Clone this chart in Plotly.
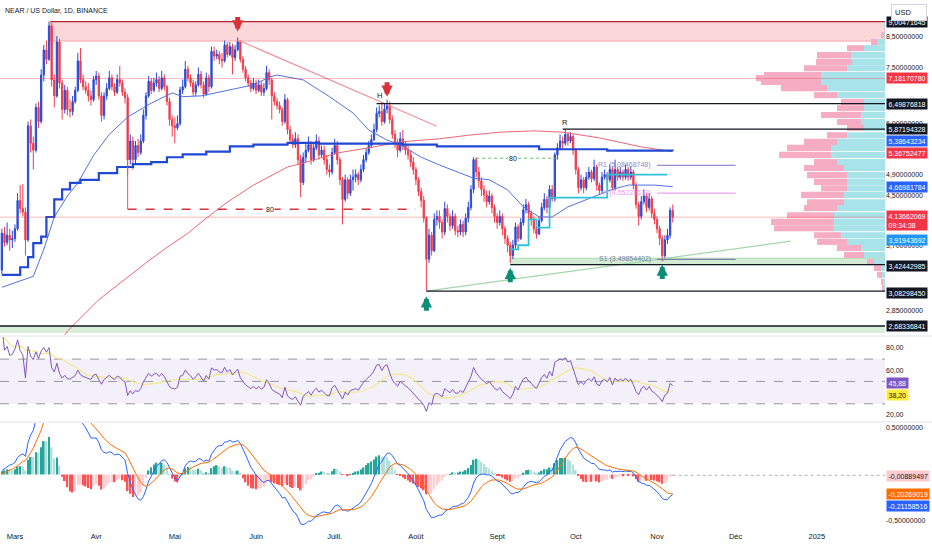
import math
import pandas as pd
import plotly.graph_objects as go

FONT = "Liberation Sans, Arial"

# ---- NEAR / USD daily candles, 25 Feb -> 7 Nov 2024 ----
first_open = 3.35
closes = [
    3.88, 3.74, 3.85, 3.78, 3.80,
    3.95, 4.42, 4.28, 4.22, 3.78, 5.95, 5.55, 5.40, 6.40, 6.05, 7.28, 8.04, 7.75, 8.85, 7.14, 6.70,
    8.30, 7.05, 6.35, 6.85, 6.35, 6.30, 6.55, 6.85, 7.70, 7.15, 6.95, 6.85, 6.70, 6.60, 7.15,
    7.25, 6.70, 6.20, 6.70, 6.90, 7.20, 6.95, 6.80, 7.15, 7.05, 6.80, 6.65, 5.20, 5.60, 5.20,
    5.50, 5.35, 5.60, 6.20, 6.70, 7.10, 6.85, 7.05, 7.15, 6.90, 7.20, 6.95, 6.55, 6.10, 5.95,
    5.90, 6.00, 6.86, 6.95, 7.45, 7.20, 7.05, 6.80, 7.00, 7.30, 7.00, 6.75, 7.20, 6.95, 8.00,
    7.85, 7.90, 7.75, 7.70, 8.20, 7.90, 8.15, 7.80, 8.05, 8.30, 7.75, 7.45, 7.20, 7.05, 6.90, 7.05,
    6.85, 7.00, 6.80, 6.90, 7.35, 7.14, 6.70, 6.55, 6.45, 6.34, 6.05, 6.60, 5.86, 5.63, 5.52,
    5.65, 5.20, 4.75, 5.25, 5.40, 5.52, 5.20, 5.45, 5.60, 5.30, 5.40, 5.20, 5.00, 4.95, 5.35,
    5.50, 5.20, 4.80, 4.44, 4.80, 4.55, 4.80, 4.85, 4.90, 4.80, 5.00, 5.20, 5.35, 5.50, 5.63,
    5.86, 6.25, 6.30, 6.05, 6.36, 6.45, 6.10, 5.75, 5.55, 5.40, 5.65, 5.50, 5.40, 5.30, 5.15, 5.00,
    4.80, 4.58, 4.42, 4.12, 3.50, 3.85, 3.62, 4.10, 4.15, 4.05, 3.90, 4.28, 4.15, 4.00, 4.15,
    3.92, 3.90, 4.02, 3.90, 4.12, 4.30, 4.62, 5.20, 4.95, 4.78, 4.62, 4.52, 4.40, 4.50, 4.30, 4.15,
    4.05, 4.15, 3.95, 3.80, 3.70, 3.55, 3.70, 3.98, 3.80, 4.05, 4.26, 4.35, 4.20, 4.10, 3.95,
    3.87, 4.08, 4.30, 4.44, 4.30, 4.62, 4.45, 5.30, 5.45, 5.60, 5.55, 5.75, 5.60, 5.70, 5.40,
    5.00, 4.65, 4.80, 4.65, 4.85, 4.95, 4.82, 5.05, 4.70, 4.60, 4.85, 4.90, 4.80, 5.00, 4.65,
    5.00, 4.85, 4.95, 4.85, 5.00, 4.85, 4.95, 4.70, 4.35, 4.15, 4.40, 4.50, 4.30, 4.45, 4.20, 4.10,
    3.95, 3.80, 3.55, 3.78, 3.85, 4.25, 4.1366,
]
highs = [
    3.95, 3.98, 4.05, 3.95, 3.92,
    4.02, 4.55, 4.70, 4.72, 4.30, 6.05, 6.10, 5.70, 6.50, 6.55, 7.45, 8.20, 8.35, 9.0047, 8.95, 7.30,
    8.50, 8.40, 7.15, 7.00, 6.95, 6.60, 6.70, 6.95, 7.95, 8.10, 7.30, 7.10, 7.05, 6.85, 7.25,
    7.40, 7.35, 6.80, 6.80, 7.05, 7.40, 7.30, 7.05, 7.30, 7.55, 7.15, 6.90, 6.75, 5.75, 5.70,
    5.60, 5.65, 5.75, 6.35, 6.80, 7.25, 7.20, 7.20, 7.35, 7.25, 7.40, 7.30, 7.00, 6.65, 6.20,
    6.15, 6.20, 6.95, 7.15, 7.70, 7.55, 7.30, 7.15, 7.10, 7.50, 7.40, 7.10, 7.35, 7.30, 8.15,
    8.15, 8.05, 8.00, 7.95, 8.35, 8.30, 8.30, 8.25, 8.20, 8.45, 8.35, 7.85, 7.55, 7.30, 7.15, 7.20,
    7.15, 7.15, 7.10, 7.05, 7.55, 7.45, 7.20, 6.80, 6.65, 6.55, 6.40, 6.75, 6.65, 5.95, 5.75,
    5.80, 5.75, 5.30, 5.35, 5.55, 5.70, 5.60, 5.55, 5.75, 5.70, 5.50, 5.50, 5.30, 5.10, 5.45,
    5.65, 5.60, 5.25, 4.85, 4.90, 4.85, 4.90, 5.00, 5.00, 4.95, 5.10, 5.30, 5.45, 5.60, 5.75,
    6.00, 6.40, 6.45, 6.55, 6.50, 6.60, 6.55, 6.20, 5.85, 5.65, 5.80, 5.85, 5.60, 5.50, 5.40, 5.25,
    5.05, 4.85, 4.65, 4.50, 4.15, 3.95, 3.90, 4.20, 4.25, 4.25, 4.10, 4.40, 4.35, 4.20, 4.25,
    4.20, 4.00, 4.10, 4.08, 4.20, 4.40, 4.70, 5.25, 5.25, 5.05, 4.85, 4.70, 4.60, 4.60, 4.55, 4.35,
    4.20, 4.25, 4.20, 4.00, 3.85, 3.75, 3.78, 4.05, 4.02, 4.12, 4.35, 4.45, 4.40, 4.25, 4.15,
    4.00, 4.15, 4.38, 4.55, 4.50, 4.70, 4.70, 5.35, 5.55, 5.75, 5.70, 5.87, 5.80, 5.80, 5.75,
    5.45, 5.05, 4.90, 4.85, 4.95, 5.05, 5.00, 5.20, 5.10, 4.75, 4.95, 5.00, 4.95, 5.10, 5.05,
    5.20, 5.05, 5.05, 5.00, 5.10, 5.05, 5.05, 5.00, 4.75, 4.40, 4.50, 4.62, 4.55, 4.55, 4.50, 4.28,
    4.15, 4.00, 3.85, 3.85, 3.95, 4.30, 4.35,
]
lows = [
    3.30, 3.68, 3.70, 3.62, 3.66,
    3.75, 3.92, 4.20, 4.15, 3.55, 3.75, 5.35, 5.00, 5.35, 5.90, 6.00, 7.10, 7.60, 7.70, 6.95, 6.40,
    6.65, 6.90, 6.10, 6.25, 6.20, 6.15, 6.20, 6.50, 6.80, 7.05, 6.85, 6.75, 6.55, 6.45, 6.55,
    7.00, 6.60, 6.05, 6.10, 6.60, 6.85, 6.85, 6.70, 6.75, 6.95, 6.70, 6.50, 4.90, 5.10, 5.00,
    5.10, 5.25, 5.30, 5.55, 6.10, 6.65, 6.75, 6.80, 6.95, 6.80, 6.85, 6.85, 6.45, 5.95, 5.70,
    5.55, 5.85, 5.95, 6.75, 6.90, 7.10, 6.95, 6.70, 6.70, 6.95, 6.90, 6.65, 6.70, 6.80, 6.90,
    7.70, 7.75, 7.60, 7.50, 7.65, 7.80, 7.85, 7.30, 7.70, 8.00, 7.65, 7.35, 7.10, 6.95, 6.80, 6.85,
    6.75, 6.80, 6.70, 6.70, 6.85, 7.00, 6.10, 6.45, 6.35, 6.25, 5.95, 6.00, 5.75, 5.55, 5.45,
    5.45, 5.10, 4.48, 4.70, 5.15, 5.35, 5.10, 5.15, 5.40, 5.20, 5.25, 5.10, 4.90, 4.85, 4.90,
    5.30, 5.10, 4.70, 4.02, 4.40, 4.45, 4.50, 4.60, 4.75, 4.70, 4.75, 4.95, 5.15, 5.30, 5.45,
    5.60, 5.80, 6.15, 5.95, 6.00, 6.25, 6.00, 5.65, 5.45, 5.25, 5.35, 5.40, 5.30, 5.20, 5.05, 4.90,
    4.70, 4.50, 4.30, 4.05, 3.0830, 3.45, 3.55, 3.60, 4.00, 3.95, 3.80, 3.85, 4.05, 3.92, 3.95,
    3.85, 3.82, 3.85, 3.82, 3.85, 4.05, 4.25, 4.55, 4.85, 4.65, 4.50, 4.40, 4.30, 4.35, 4.20, 4.05,
    3.95, 4.00, 3.85, 3.72, 3.60, 3.45, 3.50, 3.65, 3.75, 3.78, 4.00, 4.20, 4.10, 4.00, 3.88,
    3.80, 3.85, 4.05, 4.25, 4.20, 4.25, 4.40, 4.40, 5.20, 5.40, 5.40, 5.50, 5.50, 5.55, 5.30,
    4.90, 4.55, 4.60, 4.55, 4.60, 4.80, 4.75, 4.78, 4.60, 4.52, 4.55, 4.80, 4.70, 4.75, 4.60,
    4.60, 4.78, 4.80, 4.78, 4.80, 4.78, 4.80, 4.62, 4.28, 4.00, 4.10, 4.35, 4.22, 4.25, 4.12, 4.02,
    3.88, 3.70, 3.47, 3.50, 3.72, 3.80, 4.05,
]

# ---- overlay lines (date, value) ----
ma50_dates = ["2024-02-25", "2024-03-08", "2024-03-12", "2024-03-16", "2024-03-21", "2024-03-25",
              "2024-03-31", "2024-04-06", "2024-04-13", "2024-04-22", "2024-04-30", "2024-05-04",
              "2024-05-11", "2024-05-22", "2024-05-31", "2024-06-06", "2024-06-09", "2024-06-19",
              "2024-06-29", "2024-07-08", "2024-07-14", "2024-07-21", "2024-07-26", "2024-08-03",
              "2024-08-10", "2024-08-23", "2024-08-29", "2024-09-05", "2024-09-11", "2024-09-17",
              "2024-09-22", "2024-09-28", "2024-10-03", "2024-10-08", "2024-10-15", "2024-10-21",
              "2024-10-31", "2024-11-07"]
ma50_values = [3.13, 3.27, 3.64, 4.14, 4.50, 4.74, 5.29, 5.75, 6.16, 6.51, 6.78, 6.68, 6.70, 6.86,
               7.00, 7.22, 7.28, 7.14, 6.68, 6.26, 5.85, 5.62, 5.52, 5.25, 5.09, 4.83, 4.80, 4.61,
               4.31, 4.14, 4.14, 4.31, 4.40, 4.48, 4.62, 4.70, 4.70, 4.67]

ma200_dates = ["2024-03-20", "2024-03-21", "2024-04-02", "2024-04-13", "2024-04-20", "2024-04-28",
               "2024-05-06", "2024-05-13", "2024-05-21", "2024-05-31", "2024-06-13", "2024-06-19",
               "2024-07-02", "2024-07-15", "2024-07-26", "2024-08-10", "2024-08-21", "2024-09-02",
               "2024-09-15", "2024-09-26", "2024-10-10", "2024-10-26", "2024-11-07"]
ma200_values = [2.59, 2.63, 2.98, 3.26, 3.45, 3.67, 3.88, 4.12, 4.39, 4.70, 5.05, 5.13, 5.34, 5.46,
                5.58, 5.65, 5.73, 5.80, 5.83, 5.80, 5.67, 5.47, 5.37]

vwap_dates = ["2024-02-25", "2024-03-03", "2024-03-06", "2024-03-08", "2024-03-11", "2024-03-13",
              "2024-03-16", "2024-03-19", "2024-03-22", "2024-03-26", "2024-04-02", "2024-04-09",
              "2024-04-15", "2024-04-22", "2024-04-28", "2024-05-04", "2024-05-13", "2024-05-22",
              "2024-05-31", "2024-06-13", "2024-06-25", "2024-07-27", "2024-08-09", "2024-09-17",
              "2024-10-13", "2024-11-07"]
vwap_values = [3.29, 3.39, 3.53, 3.73, 3.83, 4.14, 4.44, 4.62, 4.74, 4.80, 4.93, 5.05, 5.11, 5.15,
               5.25, 5.31, 5.37, 5.48, 5.52, 5.56, 5.54, 5.52, 5.48, 5.42, 5.39, 5.386]

trail_dates = ["2024-09-06", "2024-09-09", "2024-09-13", "2024-09-16", "2024-09-21", "2024-10-13",
               "2024-11-05"]
trail_values = [3.64, 3.70, 4.10, 3.97, 4.47, 4.90, 4.90]

down_trend_dates = ["2024-05-25", "2024-08-09"]
down_trend_prices = [8.37, 5.94]
up_trend_dates = ["2024-08-05", "2024-12-22"]
up_trend_prices = [3.0830, 3.76]

# ---- volume profile rows (price, up volume, total volume) ----
vp_prices = [8.88, 8.53, 8.30, 8.10, 7.88, 7.67, 7.48, 7.28, 7.19, 7.08, 6.91, 6.72, 6.54, 6.38,
             6.21, 6.04, 5.90, 5.73, 5.58, 5.45, 5.30, 5.15, 5.03, 4.89, 4.76, 4.64, 4.52, 4.39,
             4.29, 4.17, 4.06, 3.96, 3.85, 3.75, 3.66, 3.56, 3.46, 3.38, 3.29, 3.20, 3.12]
vp_up = [1, 1, 8, 21, 34, 33, 38, 64, 68, 64, 58, 48, 21, 21, 24, 24, 21, 38, 48, 54, 54, 48, 41,
         38, 38, 38, 41, 41, 48, 51, 51, 51, 44, 38, 24, 21, 11, 4, 3, 2, 1]
vp_total = [1, 4, 14, 38, 68, 69, 81, 121, 129, 124, 104, 71, 44, 48, 64, 48, 38, 58, 81, 98, 106,
            71, 81, 78, 71, 64, 84, 78, 81, 98, 114, 111, 71, 68, 48, 41, 18, 11, 8, 4, 3]

# ---- levels and zones ----
zone_start, zone_low, zone_high = "2024-03-14 12:00", 8.33, 9.00471645
poc_price = 7.18170780
last_price = 4.13662069
countdown = "09:34:38"
level_prices = [6.49876818, 5.87194328, 3.42442985, 3.08298450]
level_starts = ["2024-07-17", "2024-09-26", "2024-09-06", "2024-08-05"]
floor_price = 2.68336841
s_zone_start, s_zone_low, s_zone_high = "2024-09-06", 3.42442985, 3.515
box_red = ("2024-04-13", "2024-08-01", 4.27, 5.15)
box_green = ("2024-08-24", "2024-09-25", 5.23)
pivot_names = ["R1", "P", "S1"]
pivot_values = [5.08468748, 4.55228633, 3.49854402]
sell_dates = ["2024-05-25", "2024-07-21"]
buy_dates = ["2024-08-05", "2024-09-06", "2024-11-03"]

indicator_tags = {"blue_ma": 5.38643234, "red_ma": 5.36752477, "ma50": 4.66981784, "fast": 3.91943692}
rsi_last, rsi_ma_last = 45.88, 38.20
hist_last, signal_last, macd_last = -0.00889497, -0.20269019, -0.21158516

month_ticks = ["2024-03-01", "2024-04-01", "2024-05-01", "2024-06-01", "2024-07-01", "2024-08-01",
               "2024-09-01", "2024-10-01", "2024-11-01", "2024-12-01", "2025-01-01"]
month_names = ["Mars", "Avr", "Mai", "Juin", "Juill.", "Août", "Sept", "Oct", "Nov", "Déc", "2025"]

# ---------------------------------------------------------------------------
dates = pd.date_range("2024-02-25", periods=len(closes), freq="D")
opens = [first_open] + closes[:-1]
highs = [max(h, o, c) for h, o, c in zip(highs, opens, closes)]
lows = [min(l, o, c) for l, o, c in zip(lows, opens, closes)]
day = dict(zip(dates.strftime("%Y-%m-%d"), range(len(dates))))

t0 = dates[0]
x_left = t0 - pd.Timedelta(hours=17)
x_right = t0 + pd.Timedelta(days=337)

P_LO, P_HI = math.log10(2.59), math.log10(9.81)


def ly(p):
    return math.log10(p)


def fmt(v, n=8):
    return f"{v:.{n}f}".replace(".", ",")


# RSI 14 + MA 14, MACD 12/26/9
px = pd.Series([first_open] + closes)
delta = px.diff().fillna(0)
gain = delta.clip(lower=0).ewm(alpha=1 / 14).mean()
loss = (-delta).clip(lower=0).ewm(alpha=1 / 14).mean()
rsi = (100 - 100 / (1 + gain / loss)).iloc[1:].reset_index(drop=True)
rsi_ma = rsi.rolling(14, min_periods=1).mean()
macd = (px.ewm(span=12, adjust=False).mean() - px.ewm(span=26, adjust=False).mean())
signal = macd.ewm(span=9, adjust=False).mean()
hist = (macd - signal)
macd, signal, hist = [s.iloc[1:].reset_index(drop=True) for s in (macd, signal, hist)]
hist_colors = []
for i, h in enumerate(hist):
    prev = hist[i - 1] if i else 0
    if h >= 0:
        hist_colors.append("#26a69a" if h > prev else "#b2dfdb")
    else:
        hist_colors.append("#ffcdd2" if h > prev else "#ff5252")

fig = go.Figure()

# volume profile: own overlay axes, 1 unit = 1 px measured from the right edge
vp_y = [ly(p) for p in vp_prices]
vp_down = [t - u for t, u in zip(vp_total, vp_up)]
fig.add_trace(go.Bar(y=vp_y, x=vp_up, base=0, orientation="h", width=0.0105,
                     marker=dict(color="#a8e3ea", line_width=0), xaxis="x4", yaxis="y4", hoverinfo="skip"))
fig.add_trace(go.Bar(y=vp_y, x=vp_down, base=vp_up, orientation="h", width=0.0105,
                     marker=dict(color="#f6adc3", line_width=0), xaxis="x4", yaxis="y4", hoverinfo="skip"))

# price
fig.add_trace(go.Candlestick(x=dates, open=opens, high=highs, low=lows, close=closes,
                             increasing=dict(line=dict(color="#2b4bd6", width=1), fillcolor="#2b4bd6"),
                             decreasing=dict(line=dict(color="#ef3d4d", width=1), fillcolor="#ef3d4d"),
                             whiskerwidth=0, hoverinfo="skip"))
fig.add_trace(go.Scatter(x=ma200_dates, y=ma200_values, mode="lines",
                         line=dict(color="#f06674", width=1), hoverinfo="skip"))
fig.add_trace(go.Scatter(x=ma50_dates, y=ma50_values, mode="lines",
                         line=dict(color="#5470e6", width=1), hoverinfo="skip"))
fig.add_trace(go.Scatter(x=vwap_dates, y=vwap_values, mode="lines",
                         line=dict(color="#1f48d4", width=2.2, shape="hv"), hoverinfo="skip"))
fig.add_trace(go.Scatter(x=trail_dates, y=trail_values, mode="lines",
                         line=dict(color="#2ec4d8", width=1.8, shape="hv"), hoverinfo="skip"))
fig.add_trace(go.Scatter(x=down_trend_dates, y=down_trend_prices, mode="lines",
                         line=dict(color="#f4929c", width=1.2), hoverinfo="skip"))
fig.add_trace(go.Scatter(x=up_trend_dates, y=up_trend_prices, mode="lines",
                         line=dict(color="#a5d6a7", width=1.2), hoverinfo="skip"))

# RSI pane
fig.add_trace(go.Scatter(x=[x_left, x_right, x_right, x_left], y=[30, 30, 70, 70], fill="toself",
                         fillcolor="rgba(126,87,194,0.09)", line_width=0, mode="lines",
                         xaxis="x2", yaxis="y2", hoverinfo="skip"))
for lvl in (70, 50, 30):
    fig.add_trace(go.Scatter(x=[x_left, x_right], y=[lvl, lvl], mode="lines",
                             line=dict(color="#9598a1", width=1, dash="dash"),
                             xaxis="x2", yaxis="y2", hoverinfo="skip"))
fig.add_trace(go.Scatter(x=dates, y=rsi_ma, mode="lines", line=dict(color="#f2e88c", width=1.2),
                         xaxis="x2", yaxis="y2", hoverinfo="skip"))
fig.add_trace(go.Scatter(x=dates, y=rsi, mode="lines", line=dict(color="#7e57c2", width=1),
                         xaxis="x2", yaxis="y2", hoverinfo="skip"))

# MACD pane
fig.add_trace(go.Bar(x=dates, y=hist, marker=dict(color=hist_colors, line_width=0),
                     width=0.62 * 86400000, xaxis="x3", yaxis="y3", hoverinfo="skip"))
fig.add_trace(go.Scatter(x=dates, y=macd, mode="lines", line=dict(color="#2962ff", width=1),
                         xaxis="x3", yaxis="y3", hoverinfo="skip"))
fig.add_trace(go.Scatter(x=dates, y=signal, mode="lines", line=dict(color="#ff6d00", width=1),
                         xaxis="x3", yaxis="y3", hoverinfo="skip"))

# ---- shapes (price pane drawn against y4 = log10 of price) ----
shapes = []


def hseg(x0, x1, p, color, width=1.0, dash="solid", layer="above"):
    shapes.append(dict(type="line", xref="x", yref="y4", x0=x0, x1=x1, y0=ly(p), y1=ly(p),
                       line=dict(color=color, width=width, dash=dash), layer=layer))


def rect(x0, x1, p0, p1, fill, edge=None):
    shapes.append(dict(type="rect", xref="x", yref="y4", x0=x0, x1=x1, y0=ly(p0), y1=ly(p1),
                       fillcolor=fill, line=dict(width=1 if edge else 0, color=edge or fill),
                       layer="below"))


rect(zone_start, x_right, zone_low, zone_high, "rgba(242,54,69,0.2)", "rgba(242,54,69,0.35)")
hseg(zone_start, x_right, zone_high, "#b3262f", 1.2)
rect(s_zone_start, x_right, s_zone_low, s_zone_high, "rgba(129,199,132,0.35)", "rgba(102,187,106,0.45)")
rect(x_left, x_right, 2.61, floor_price, "rgba(129,199,132,0.3)")
hseg(x_left, x_right, poc_price, "rgba(242,54,69,0.35)")
hseg(x_left, x_right, last_price, "rgba(242,54,69,0.35)")
for p, s in zip(level_prices, level_starts):
    hseg(s, x_right, p, "#131722", 1.2)
hseg(x_left, x_right, floor_price, "#131722", 1.4)
hseg(box_red[0], box_red[1], box_red[2], "#d8323f", 1.5, "dash")
shapes.append(dict(type="line", xref="x", yref="y4", x0=box_red[0], x1=box_red[0],
                   y0=ly(box_red[2]), y1=ly(box_red[3]), line=dict(color="#ef5350", width=1)))
hseg(box_green[0], box_green[1], box_green[2], "#66bb6a", 1, "dot")
pivot_colors = ["#7b6fc4", "#e48ae8", "#6b6b9a"]
for v, col in zip(pivot_values, pivot_colors):
    hseg("2024-11-01", "2024-12-01", v, col, 1)
shapes.append(dict(type="line", xref="x", yref="y3", x0=dates[-1], x1=x_right, y0=hist_last,
                   y1=hist_last, line=dict(color="#b2b5be", width=1, dash="dot")))
for yp in (0.366, 0.2038):
    shapes.append(dict(type="line", xref="paper", yref="paper", x0=0, x1=932 / 885, y0=yp, y1=yp,
                       line=dict(color="#e0e3eb", width=1)))

# ---- annotations ----
ann = []
small = dict(family=FONT, size=7.5, color="#131722")


def tag(value, text, bg, fg="white", shift=0, yref="y4", anchor="middle"):
    ann.append(dict(xref="paper", x=1, xanchor="left", xshift=1, yref=yref, y=value, yanchor=anchor,
                    yshift=shift, text=text, showarrow=False, bgcolor=bg, borderpad=1.5,
                    font=dict(family=FONT, size=7, color=fg), align="left"))


tag(ly(zone_high), fmt(zone_high), "#131722")
tag(ly(poc_price), fmt(poc_price), "#f23645")
tag(ly(level_prices[0]), fmt(level_prices[0]), "#131722")
tag(ly(level_prices[1]), fmt(level_prices[1]), "#131722")
tag(ly(indicator_tags["blue_ma"]), fmt(indicator_tags["blue_ma"]), "#2962ff", shift=10)
tag(ly(indicator_tags["red_ma"]), fmt(indicator_tags["red_ma"]), "#f23645", shift=-1)
tag(ly(indicator_tags["ma50"]), fmt(indicator_tags["ma50"]), "#2962ff")
tag(ly(last_price), fmt(last_price) + "<br>" + countdown, "#f23645", shift=7, anchor="top")
tag(ly(indicator_tags["fast"]), fmt(indicator_tags["fast"]), "#2196f3", shift=-9)
tag(ly(level_prices[2]), fmt(level_prices[2]), "#131722", shift=-1)
tag(ly(level_prices[3]), fmt(level_prices[3]), "#131722", shift=-2)
tag(ly(floor_price), fmt(floor_price), "#131722")
tag(rsi_last, fmt(rsi_last, 2), "#7e57c2", shift=3, yref="y2")
tag(rsi_ma_last, fmt(rsi_ma_last, 2), "#ffeb3b", fg="#131722", yref="y2")
tag(hist_last, fmt(hist_last), "#fccbcf", fg="#131722", shift=-1, yref="y3")
tag(signal_last, fmt(signal_last), "#ff6d00", shift=-1, yref="y3")
tag(macd_last, fmt(macd_last), "#2962ff", shift=-12, yref="y3")

ann.append(dict(xref="paper", yref="paper", x=1, y=1, xanchor="left", yanchor="top", xshift=6,
                yshift=-4, text="USD", showarrow=False, bgcolor="white", bordercolor="#d1d4dc",
                borderwidth=1, borderpad=3, width=28, align="left", font=small))
ann.append(dict(xref="paper", yref="paper", x=0, y=1, xanchor="left", yanchor="top", xshift=3,
                yshift=-5, text="NEAR / US Dollar, 1D, BINANCE", showarrow=False,
                font=dict(family=FONT, size=7, color="#131722")))

ann.append(dict(x="2024-07-18", y=ly(level_prices[0]), xref="x", yref="y4", yshift=8, text="H",
                showarrow=False, font=small))
ann.append(dict(x="2024-09-27", y=ly(level_prices[1]), xref="x", yref="y4", yshift=7, text="R",
                showarrow=False, font=small))
ann.append(dict(x="2024-06-06 12:00", y=ly(box_red[2]), xref="x", yref="y4", text="80",
                showarrow=False, bgcolor="white", borderpad=0, font=dict(family=FONT, size=7, color="#131722")))
ann.append(dict(x="2024-09-07", y=ly(box_green[2]), xref="x", yref="y4", text="80",
                showarrow=False, bgcolor="white", borderpad=0, font=dict(family=FONT, size=7, color="#131722")))
for name, v, col in zip(pivot_names, pivot_values, pivot_colors):
    ann.append(dict(x="2024-11-01", y=ly(v), xref="x", yref="y4", xanchor="right", xshift=-4,
                    text=f"{name} ({v:.8f})", showarrow=False,
                    font=dict(family=FONT, size=7, color=col), opacity=0.85))

for d, gap in zip(sell_dates, (6, 3)):
    ann.append(dict(x=d, y=ly(highs[day[d]]), xref="x", yref="y4", text="", showarrow=True,
                    arrowhead=2, arrowsize=0.45, arrowwidth=5, arrowcolor="#d9313b",
                    ax=0, ay=-(gap + 16), standoff=gap))
for d, gap in zip(buy_dates, (5, 5, 3)):
    ann.append(dict(x=d, y=ly(lows[day[d]]), xref="x", yref="y4", text="", showarrow=True,
                    arrowhead=2, arrowsize=0.45, arrowwidth=5, arrowcolor="#0a8f76",
                    ax=0, ay=gap + 16, standoff=gap))

axis_font = dict(family=FONT, size=7, color="#131722")
price_ticks = [2.85, 3.7, 4.5, 4.9, 6.0, 7.5, 8.5]
common_x = dict(showgrid=False, zeroline=False, showline=False, ticks="")
common_y = dict(showgrid=False, zeroline=False, showline=False, ticks="", side="right",
                tickfont=axis_font, fixedrange=True)

fig.update_layout(
    width=932, height=550, margin=dict(l=0, r=47, t=0, b=20),
    paper_bgcolor="white", plot_bgcolor="white", showlegend=False, barmode="overlay",
    font=dict(family=FONT, color="#131722"),
    xaxis=dict(domain=[0, 1], anchor="y", type="date", range=[x_left, x_right],
               showticklabels=False, rangeslider=dict(visible=False), **common_x),
    yaxis=dict(domain=[0.368, 1], anchor="x", type="log", range=[P_LO, P_HI],
               tickvals=price_ticks, ticktext=[fmt(v) for v in price_ticks], **common_y),
    xaxis2=dict(domain=[0, 1], anchor="y2", matches="x", showticklabels=False, **common_x),
    yaxis2=dict(domain=[0.2057, 0.3642], anchor="x2", range=[14.6, 89.8],
                tickvals=[20, 60, 80], ticktext=[fmt(v, 2) for v in (20, 60, 80)], **common_y),
    xaxis3=dict(domain=[0, 1], anchor="y3", matches="x", tickvals=month_ticks, ticktext=month_names,
                tickfont=dict(family=FONT, size=7.5, color="#131722"), **common_x),
    yaxis3=dict(domain=[0, 0.2019], anchor="x3", range=[-0.597, 0.554],
                tickvals=[-0.5, 0.5], ticktext=[fmt(-0.5), fmt(0.5)], **common_y),
    xaxis4=dict(overlaying="x", anchor="y4", range=[885, 0], visible=False),
    yaxis4=dict(overlaying="y", anchor="x4", range=[P_LO, P_HI], visible=False),
    shapes=shapes, annotations=ann,
)

fig.write_html("out.html", config={"displayModeBar": False},
               post_script="document.body.style.margin='0px';")
